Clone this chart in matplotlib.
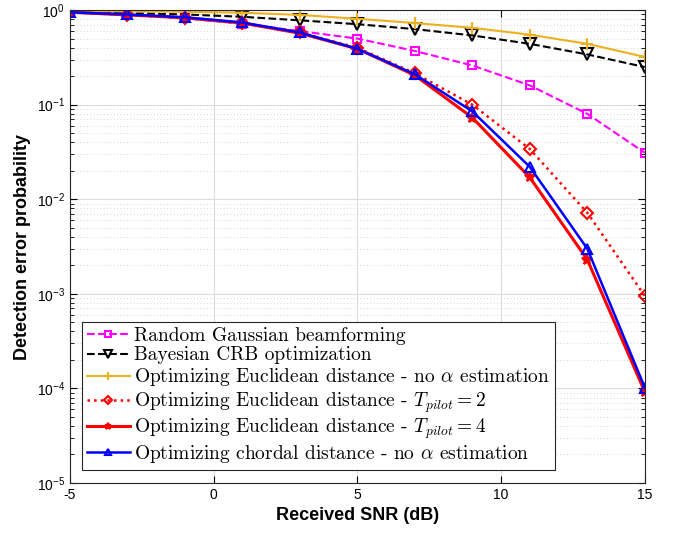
import numpy as np
import matplotlib.pyplot as plt
from matplotlib.ticker import LogLocator, NullFormatter

plt.rcParams['mathtext.fontset'] = 'cm'
plt.rcParams['axes.formatter.use_mathtext'] = True

snr = [-5, -3, -1, 1, 3, 5, 7, 9, 11, 13, 15]

random_gauss = [0.95, 0.90, 0.82, 0.72, 0.60, 0.50, 0.37, 0.26, 0.160, 0.080, 0.031]
bayes_crb = [0.96, 0.93, 0.90, 0.85, 0.78, 0.71, 0.63, 0.54, 0.44, 0.34, 0.25]
eucl_no_alpha = [0.98, 0.97, 0.96, 0.94, 0.89, 0.81, 0.73, 0.65, 0.55, 0.44, 0.32]
eucl_t2 = [0.95, 0.89, 0.83, 0.73, 0.58, 0.40, 0.215, 0.100, 0.034, 0.0072, 0.00095]
eucl_t4 = [0.95, 0.89, 0.83, 0.73, 0.57, 0.39, 0.205, 0.073, 0.0170, 0.0023, 0.000092]
chordal = [0.95, 0.90, 0.84, 0.74, 0.58, 0.39, 0.21, 0.085, 0.022, 0.0030, 0.000102]

fig = plt.figure(figsize=(6.78, 5.33), dpi=100)
ax = fig.add_axes([0.103, 0.094, 0.848, 0.887])

ax.semilogy(snr, random_gauss, '--s', color='#FF00FF', lw=1.5, ms=6, mfc='none', mew=1.5,
            label='Random Gaussian beamforming')
ax.semilogy(snr, bayes_crb, '--v', color='black', lw=1.5, ms=8, mfc='none', mew=1.5,
            label='Bayesian CRB optimization')
ax.semilogy(snr, eucl_no_alpha, '-+', color='#EDB120', lw=1.5, ms=8, mew=1.5,
            label=r'Optimizing Euclidean distance - no $\alpha$ estimation')
ax.semilogy(snr, eucl_t2, ':D', color='#FF0000', lw=1.8, ms=6, mfc='none', mew=1.5,
            label=r'Optimizing Euclidean distance - $T_{pilot}=2$')
ax.semilogy(snr, eucl_t4, '-*', color='#FF0000', lw=2.2, ms=7, mew=1.5,
            label=r'Optimizing Euclidean distance - $T_{pilot}=4$')
ax.semilogy(snr, chordal, '-^', color='#0000FF', lw=1.8, ms=7, mfc='none', mew=1.5,
            label=r'Optimizing chordal distance - no $\alpha$ estimation')

ax.set_xlim(-5, 15)
ax.set_ylim(1e-5, 1)
ax.set_xticks([-5, 0, 5, 10, 15])
ax.set_xticklabels(['-5', '0', '5', '10', '15'])
ax.yaxis.set_major_locator(LogLocator(base=10, numticks=10))
ax.yaxis.set_minor_locator(LogLocator(base=10, subs=np.arange(2, 10), numticks=100))
ax.yaxis.set_minor_formatter(NullFormatter())

ax.grid(True, which='major', color='#dcdcdc', lw=0.8)
ax.grid(True, which='minor', axis='y', color='#c8c8c8', lw=0.6, ls=(0, (1, 3)))
ax.tick_params(which='both', direction='in', top=True, right=True, labelsize=10)
ax.tick_params(which='major', length=5)
ax.tick_params(which='minor', length=3)
for s in ax.spines.values():
    s.set_color('#262626')

ax.set_xlabel('Received SNR (dB)', fontsize=13, fontweight='bold', family='Liberation Sans')
ax.set_ylabel('Detection error probability', fontsize=13, fontweight='bold', family='Liberation Sans')
for lbl in ax.get_xticklabels() + ax.get_yticklabels():
    lbl.set_family('Liberation Sans')

leg = ax.legend(loc='lower left', bbox_to_anchor=(0.021, 0.027), prop={'family': 'cmr10', 'size': 14},
                fancybox=False, edgecolor='#262626', framealpha=1, handlelength=2.2,
                labelspacing=0.1, borderpad=0.25, handletextpad=0.25, borderaxespad=0,
                markerscale=0.7)
leg.get_frame().set_linewidth(0.8)

fig.savefig('out.png', dpi=100)
